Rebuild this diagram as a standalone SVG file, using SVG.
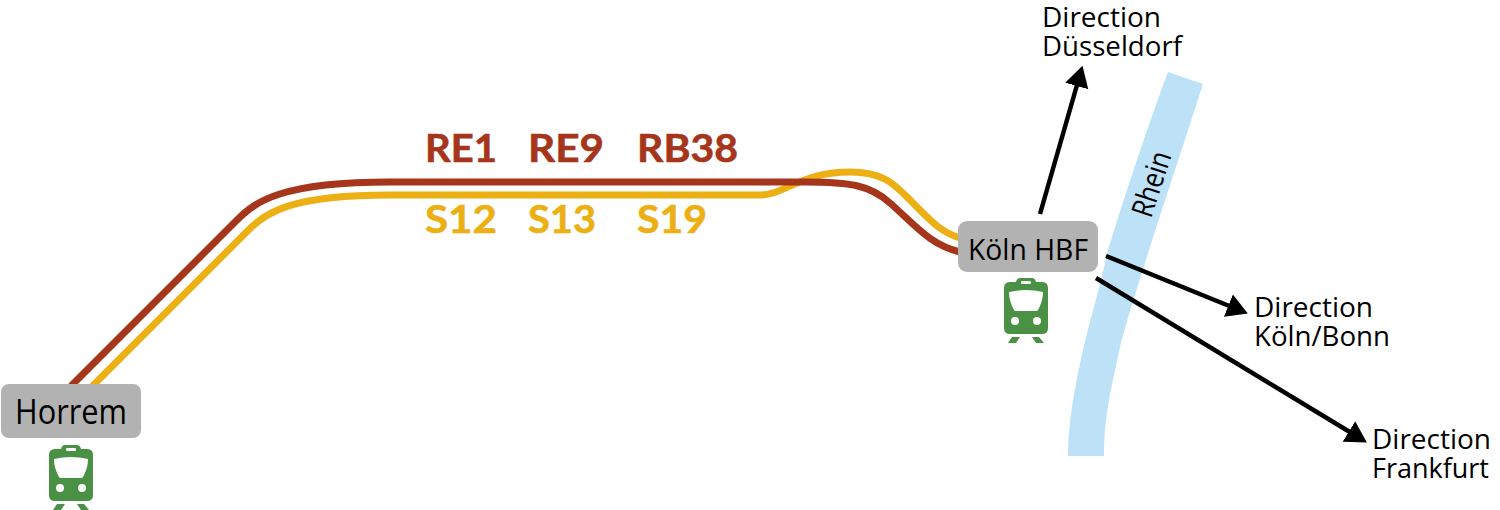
<svg xmlns="http://www.w3.org/2000/svg" width="1500" height="510" viewBox="0 0 1500 510">
<style>
.lbl{font-family:"Open Sans","Noto Sans","Liberation Sans",sans-serif;fill:#000}
.dir{font-size:28px}
.line{font-family:"Lato","Open Sans",sans-serif;font-weight:700;font-size:39px;stroke-width:.6px}
.red{fill:#a5351b;stroke:#a5351b}
.yel{fill:#ecaf14;stroke:#ecaf14}
.box{fill:#b2b2b2}
.arr{fill:none;stroke:#000;stroke-width:4.500;marker-end:url(#ah)}
.trk{fill:none;stroke-width:7}
</style>
<defs>
<marker id="ah" markerUnits="userSpaceOnUse" markerWidth="24" markerHeight="26" refX="1" refY="13" orient="auto">
<path d="M0 1L21 13L0 25Z" fill="#000"/>
</marker>
<symbol id="train" width="44" height="66" viewBox="0 0 44 66" overflow="visible">
<path fill="#4a9045" fill-rule="evenodd" d="M6 4H12Q13 0 16 0H28Q31 0 32 4H38Q44 4 44 10V50Q44 56 38 56H6Q0 56 0 50V10Q0 4 6 4ZM18 3Q17 3 17 4.500Q17 6 18 6H26Q27 6 27 4.500Q27 3 26 3ZM5 14Q22 10 39 14Q39 23 34 32Q33.500 33 32 33H12Q10.500 33 10 32Q5 23 5 14ZM11 39A4 4 0 1 0 11 47A4 4 0 1 0 11 39ZM33 39A4 4 0 1 0 33 47A4 4 0 1 0 33 39Z"/>
<path fill="#4a9045" d="M8 59H16L12 65H4ZM28 59H35L40 65H32Z"/>
</symbol>
</defs>
<path id="river" fill="#bde2f8" d="M1168 72L1203 84C1185 140 1165 200 1149 250C1140 280 1128 315 1120 347C1112 385 1104 415 1104 456H1068C1068 425 1074 390 1083 350C1090 320 1098 295 1108 250C1125 195 1148 125 1168 72Z"/>
<text class="lbl" font-size="30" textLength="67" lengthAdjust="spacingAndGlyphs" transform="translate(1151 219) rotate(-72)">Rhein</text>
<g id="connectors">
<path class="trk" stroke="#ecaf14" d="M92.500 386L248.500 230C265 213 290 195 390 195H760C785 195 800 172 850 172C885 172 895 185 912 202C930 220 940 232 960 238"/>
<path class="trk" stroke="#a5351b" d="M71 386L237 220C255 202 280 182 390 182H805C850 182 870 185 890 203C915 225 930 245 960 252"/>
<path class="arr" d="M1040 214L1077 85"/>
<path class="arr" d="M1106 256L1229.300 306"/>
<path class="arr" d="M1096 278L1349.800 432"/>
</g>
<g id="horrem">
<rect class="box" x="1" y="384" width="140" height="54" rx="8"/>
<text class="lbl" font-size="34" x="15" y="424" textLength="112" lengthAdjust="spacingAndGlyphs">Horrem</text>
<use href="#train" x="49" y="445"/>
</g>
<g id="koln">
<rect class="box" x="958" y="221" width="140" height="51" rx="9"/>
<text class="lbl" font-size="30" x="968" y="260" textLength="120" lengthAdjust="spacingAndGlyphs">Köln HBF</text>
<use href="#train" x="1004" y="278"/>
</g>
<g id="line-labels">
<text class="line red" x="425" y="162" textLength="72" lengthAdjust="spacingAndGlyphs">RE1</text>
<text class="line red" x="528" y="162" textLength="76" lengthAdjust="spacingAndGlyphs">RE9</text>
<text class="line red" x="637" y="162" textLength="101" lengthAdjust="spacingAndGlyphs">RB38</text>
<text class="line yel" x="425" y="233" textLength="72" lengthAdjust="spacingAndGlyphs">S12</text>
<text class="line yel" x="528" y="233" textLength="68" lengthAdjust="spacingAndGlyphs">S13</text>
<text class="line yel" x="637" y="233" textLength="70" lengthAdjust="spacingAndGlyphs">S19</text>
</g>
<g id="dir-dusseldorf"><text class="lbl dir" x="1042" y="27">Direction</text><text class="lbl dir" x="1042" y="56" textLength="140" lengthAdjust="spacingAndGlyphs">Düsseldorf</text></g>
<g id="dir-kolnbonn"><text class="lbl dir" x="1254" y="317">Direction</text><text class="lbl dir" x="1254" y="346" textLength="136" lengthAdjust="spacingAndGlyphs">Köln/Bonn</text></g>
<g id="dir-frankfurt"><text class="lbl dir" x="1372" y="449">Direction</text><text class="lbl dir" x="1372" y="478" textLength="117" lengthAdjust="spacingAndGlyphs">Frankfurt</text></g>
</svg>
